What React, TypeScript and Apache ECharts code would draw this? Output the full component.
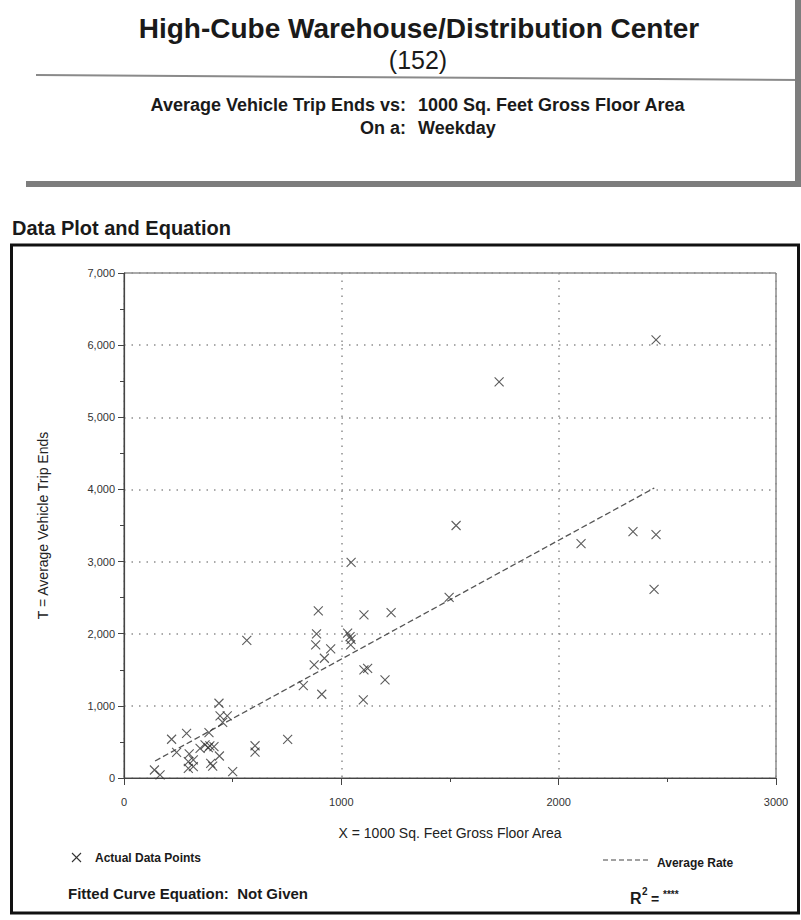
import React, { useEffect, useRef } from "react";
import * as echarts from "echarts";

// ---- data ----
const TITLE = "High-Cube Warehouse/Distribution Center";
const CODE = "(152)";
const SUB_LABELS = ["Average Vehicle Trip Ends vs:", "On a:"];
const SUB_VALUES = ["1000 Sq. Feet Gross Floor Area", "Weekday"];
const SECTION = "Data Plot and Equation";
const X_NAME = "X = 1000 Sq. Feet Gross Floor Area";
const Y_NAME = "T = Average Vehicle Trip Ends";

// [1000 sq ft GFA, trip ends]
const actualPoints: [number, number][] = [
  [140, 111], [166, 42], [219, 537], [242, 356], [288, 620], [296, 226], [319, 250],
  [296, 134], [319, 157], [300, 333], [350, 412], [373, 458], [388, 420], [395, 445],
  [414, 434], [391, 628], [399, 204], [408, 166], [439, 305], [437, 1036], [442, 860],
  [475, 860], [454, 772], [500, 87], [565, 1909], [603, 447], [603, 360], [753, 535],
  [825, 1280], [875, 1567], [882, 1845], [886, 1997], [894, 2316], [910, 1161],
  [922, 1660], [951, 1789], [1029, 2007], [1040, 1960], [1045, 1920], [1043, 1845],
  [1045, 2988], [1101, 1082], [1104, 1498], [1121, 1521], [1104, 2261], [1201, 1359],
  [1229, 2293], [1496, 2503], [1528, 3500], [1726, 5491], [2103, 3250], [2342, 3416],
  [2448, 3375], [2439, 2614], [2448, 6072],
];
// average rate line end points
const averageRate: [number, number][] = [
  [143, 236],
  [2440, 4020],
];
const X_TICKS = { min: 0, max: 3000, interval: 1000 };
const Y_TICKS = { min: 0, max: 7000, interval: 1000 };

const SANS = '"Liberation Sans", Arial, Helvetica, sans-serif';

export default function App() {
  const ref = useRef<HTMLDivElement>(null);
  useEffect(() => {
    if (!ref.current) return;
    const chart = echarts.init(ref.current, null, { renderer: "svg" });
    const dotted = { type: [1.5, 6] as any, color: "#8f8f8f", width: 1.5 };
    const txt = (x: number, y: number, text: string, font: string, align = "left") => ({
      type: "text",
      style: { x, y, text, align, verticalAlign: "middle", font, fill: "#1a1a1a" },
    });
    chart.setOption({
      animation: false,
      backgroundColor: "#fff",
      grid: {
        left: 124,
        right: 25,
        top: 273,
        bottom: 142,
        show: true,
        borderColor: "#555",
        borderWidth: 1,
        backgroundColor: "transparent",
      },
      xAxis: {
        type: "value",
        min: X_TICKS.min,
        max: X_TICKS.max,
        interval: X_TICKS.interval,
        name: X_NAME,
        nameLocation: "middle",
        nameGap: 48,
        nameTextStyle: { fontFamily: SANS, fontSize: 14, color: "#222" },
        axisLine: { show: true, lineStyle: { color: "#444", width: 1.2 } },
        axisTick: { show: true, length: 7, lineStyle: { color: "#444" } },
        minorTick: { show: true, splitNumber: 2, length: 4, lineStyle: { color: "#444" } },
        axisLabel: {
          fontFamily: SANS,
          fontSize: 11,
          color: "#333",
          margin: 18,
          formatter: (v: number) => String(v),
        },
        splitLine: { show: true, lineStyle: dotted },
      },
      yAxis: {
        type: "value",
        min: Y_TICKS.min,
        max: Y_TICKS.max,
        interval: Y_TICKS.interval,
        name: Y_NAME,
        nameLocation: "middle",
        nameGap: 74,
        nameTextStyle: { fontFamily: SANS, fontSize: 14, color: "#222" },
        axisLine: { show: true, lineStyle: { color: "#444", width: 1.2 } },
        axisTick: { show: true, length: 6, lineStyle: { color: "#444" } },
        minorTick: { show: true, splitNumber: 2, length: 4, lineStyle: { color: "#444" } },
        axisLabel: {
          fontFamily: SANS,
          fontSize: 11,
          color: "#333",
          margin: 9,
          formatter: (v: number) => v.toLocaleString("en-US"),
        },
        splitLine: { show: true, lineStyle: dotted },
      },
      series: [
        {
          type: "line",
          data: averageRate,
          symbol: "none",
          lineStyle: { type: [6, 3], color: "#555", width: 1.3 },
          z: 2,
        },
        {
          type: "scatter",
          data: actualPoints,
          symbol: "path://M0,0L10,10M10,0L0,10",
          symbolSize: 9,
          itemStyle: { color: "rgba(0,0,0,0)", borderColor: "#333", borderWidth: 1.1 },
          z: 3,
        },
      ],
      graphic: [
        txt(419, 28, TITLE, `bold 28px ${SANS}`, "center"),
        txt(418, 60, CODE, `25px ${SANS}`, "center"),
        { type: "line", shape: { x1: 36, y1: 75, x2: 801, y2: 80 }, style: { stroke: "#8a8a8a", lineWidth: 2 } },
        txt(406, 105, SUB_LABELS[0], `bold 18px ${SANS}`, "right"),
        txt(418, 105, SUB_VALUES[0], `bold 18px ${SANS}`),
        txt(406, 128, SUB_LABELS[1], `bold 18px ${SANS}`, "right"),
        txt(418, 128, SUB_VALUES[1], `bold 18px ${SANS}`),
        { type: "rect", shape: { x: 26, y: 181, width: 775, height: 6 }, style: { fill: "#7d7d7d" } },
        { type: "rect", shape: { x: 795, y: 0, width: 6, height: 187 }, style: { fill: "#7d7d7d" } },
        txt(12, 228, SECTION, `bold 20px ${SANS}`),
        {
          type: "rect",
          shape: { x: 11.5, y: 245, width: 787, height: 668 },
          style: { fill: "none", stroke: "#111", lineWidth: 3 },
        },
        { type: "line", shape: { x1: 72, y1: 853, x2: 81, y2: 862 }, style: { stroke: "#333", lineWidth: 1.1 } },
        { type: "line", shape: { x1: 72, y1: 862, x2: 81, y2: 853 }, style: { stroke: "#333", lineWidth: 1.1 } },
        txt(95, 858, "Actual Data Points", `bold 12px ${SANS}`),
        {
          type: "line",
          shape: { x1: 603, y1: 860, x2: 651, y2: 860 },
          style: { stroke: "#444", lineWidth: 1.2, lineDash: [5, 3] },
        },
        txt(657, 863, "Average Rate", `bold 12px ${SANS}`),
        txt(68, 893, "Fitted Curve Equation:  Not Given", `bold 15px ${SANS}`),
        txt(630, 898, "R", `bold 16px ${SANS}`),
        txt(642, 891, "2", `bold 10px ${SANS}`),
        txt(651, 899, "=", `bold 14px ${SANS}`),
        txt(663, 894, "****", `bold 10px ${SANS}`),
      ],
    });
    return () => chart.dispose();
  }, []);
  return (
    <div
      ref={ref}
      style={{ position: "absolute", left: 0, top: 0, width: 801, height: 920 }}
    />
  );
}
